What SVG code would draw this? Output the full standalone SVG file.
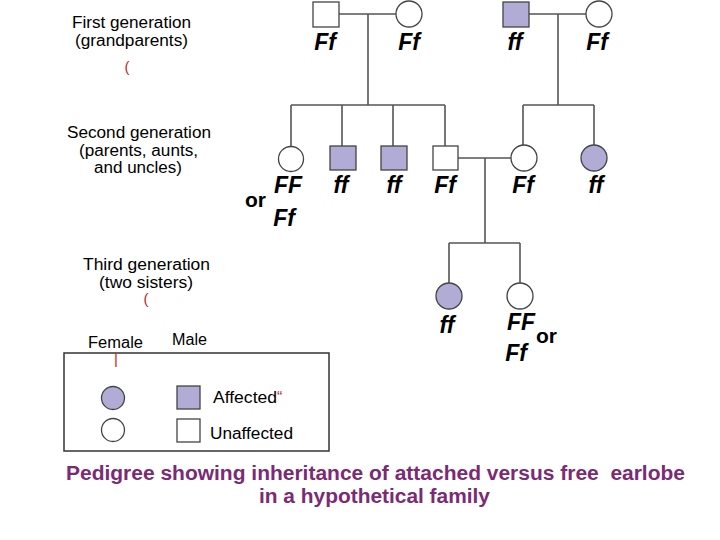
<svg xmlns="http://www.w3.org/2000/svg" width="720" height="540" viewBox="0 0 720 540">
<style>
.lbl{font-family:"Liberation Sans",Arial,sans-serif;font-size:16px;fill:#000;text-anchor:middle}
.gt{font-family:"Liberation Sans",Arial,sans-serif;font-size:23px;font-weight:bold;font-style:italic;fill:#000;text-anchor:middle}
.or{font-family:"Liberation Sans",Arial,sans-serif;font-size:21px;font-weight:bold;fill:#000}
.red{font-family:"Liberation Sans",Arial,sans-serif;font-size:15px;fill:#c0262c;text-anchor:middle}
.title{font-family:"Liberation Sans",Arial,sans-serif;font-size:19.5px;font-weight:bold;fill:#7b2a73;text-anchor:middle}
.aff{fill:#b1acd6;stroke:#444;stroke-width:1.3}
.un{fill:#fff;stroke:#444;stroke-width:1.3}
.ln{stroke:#555;stroke-width:1.6;fill:none}
</style>
<rect width="720" height="540" fill="#fff"/>
<g id="connectors">
<path class="ln" d="M339 14H396M368 14V105M291 105H445M291 105V146M342 105V146M393 105V146M445 105V146"/>
<path class="ln" d="M529 14H586M558 14V105M523 105H594M523 105V145M594 105V145"/>
<path class="ln" d="M458 158H511M485 158V243M449 243H520M449 243V283M520 243V283"/>
</g>
<g id="labels-left">
<text class="lbl" x="131.5" y="28" textLength="119" lengthAdjust="spacingAndGlyphs">First generation</text>
<text class="lbl" x="131.5" y="46" textLength="113" lengthAdjust="spacingAndGlyphs">(grandparents)</text>
<text class="red" x="127" y="72">(</text>
<text class="lbl" x="139" y="138" textLength="144" lengthAdjust="spacingAndGlyphs">Second generation</text>
<text class="lbl" x="138.5" y="156" textLength="119" lengthAdjust="spacingAndGlyphs">(parents, aunts,</text>
<text class="lbl" x="138" y="173" textLength="88" lengthAdjust="spacingAndGlyphs">and uncles)</text>
<text class="lbl" x="146.5" y="270" textLength="127" lengthAdjust="spacingAndGlyphs">Third generation</text>
<text class="lbl" x="146" y="288" textLength="94" lengthAdjust="spacingAndGlyphs">(two sisters)</text>
<text class="red" x="146" y="304">(</text>
</g>
<g id="g1-male1"><rect class="un" x="313" y="2" width="26" height="25"/><text class="gt" x="325" y="50">Ff</text></g>
<g id="g1-female1"><circle class="un" cx="409" cy="14" r="13"/><text class="gt" x="409" y="50">Ff</text></g>
<g id="g1-male2"><rect class="aff" x="503" y="2" width="26" height="25"/><text class="gt" x="515" y="50">ff</text></g>
<g id="g1-female2"><circle class="un" cx="599" cy="14" r="13"/><text class="gt" x="597" y="50">Ff</text></g>
<g id="g2-female1"><circle class="un" cx="291" cy="159" r="12.5"/><text class="gt" x="288" y="193">FF</text><text class="or" x="245" y="207">or</text><text class="gt" x="284" y="226">Ff</text></g>
<g id="g2-male1"><rect class="aff" x="330" y="146" width="26" height="24"/><text class="gt" x="341" y="193">ff</text></g>
<g id="g2-male2"><rect class="aff" x="381" y="146" width="26" height="24"/><text class="gt" x="394" y="193">ff</text></g>
<g id="g2-male3"><rect class="un" x="433" y="146" width="25" height="24"/><text class="gt" x="445" y="193">Ff</text></g>
<g id="g2-female2"><circle class="un" cx="524" cy="158" r="13"/><text class="gt" x="523" y="193">Ff</text></g>
<g id="g2-female3"><circle class="aff" cx="594" cy="158" r="13"/><text class="gt" x="596" y="193">ff</text></g>
<g id="g3-female1"><circle class="aff" cx="449" cy="296" r="13"/><text class="gt" x="447" y="333">ff</text></g>
<g id="g3-female2"><circle class="un" cx="520" cy="296" r="13"/><text class="gt" x="521" y="330">FF</text><text class="or" x="536" y="343">or</text><text class="gt" x="516" y="361">Ff</text></g>
<g id="legend">
<text class="lbl" x="115.5" y="348" textLength="55" lengthAdjust="spacingAndGlyphs">Female</text>
<text class="lbl" x="189.5" y="345" textLength="35" lengthAdjust="spacingAndGlyphs">Male</text>
<rect x="64" y="353" width="265" height="98" fill="#fff" stroke="#333" stroke-width="1.5"/>
<text class="red" x="116" y="364" font-size="10">|</text>
<circle class="aff" cx="113" cy="398" r="11.5"/>
<circle class="un" cx="113" cy="430" r="11.5"/>
<rect class="aff" x="177" y="386" width="23" height="23"/>
<rect class="un" x="177" y="419" width="23" height="23"/>
<text class="lbl" x="213" y="403" style="text-anchor:start"><tspan textLength="64" lengthAdjust="spacingAndGlyphs">Affected</tspan><tspan fill="#c0262c">“</tspan></text>
<text class="lbl" x="210" y="439" style="text-anchor:start" textLength="83" lengthAdjust="spacingAndGlyphs">Unaffected</text>
</g>
<g id="title">
<text class="title" x="375.5" y="480" xml:space="preserve" textLength="619" lengthAdjust="spacingAndGlyphs">Pedigree showing inheritance of attached versus free  earlobe</text>
<text class="title" x="374.5" y="503" textLength="231" lengthAdjust="spacingAndGlyphs">in a hypothetical family</text>
</g>
</svg>
